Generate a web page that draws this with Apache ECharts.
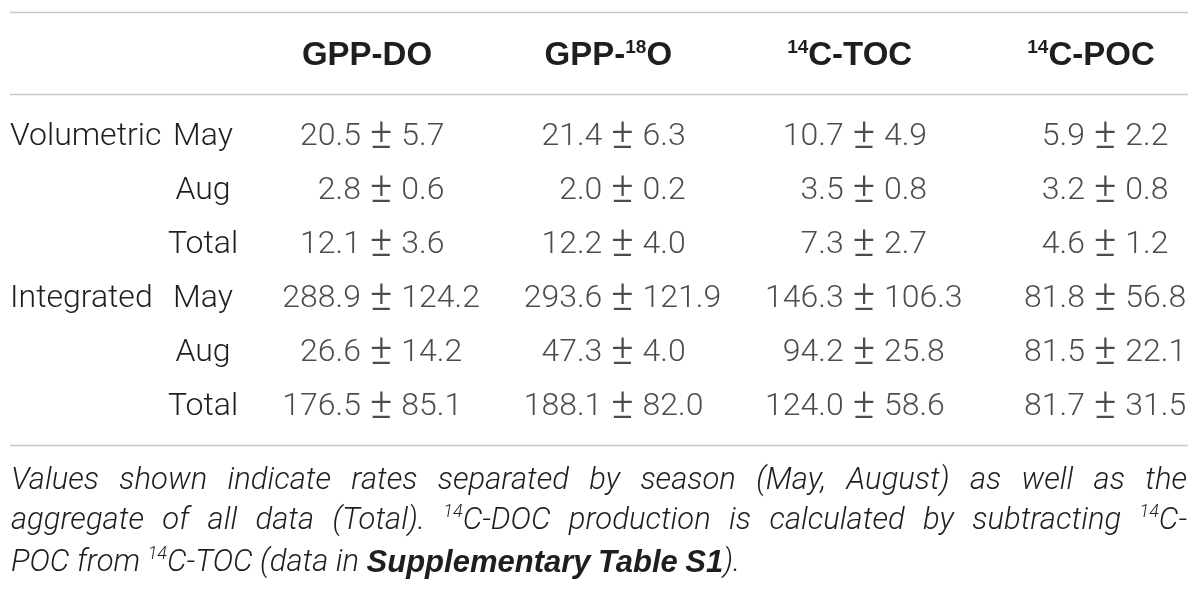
<!DOCTYPE html>
<html>
<head>
<meta charset="utf-8">
<script src="https://cdn.jsdelivr.net/npm/echarts@6.0.0/dist/echarts.min.js"></script>
<style>
html,body{margin:0;padding:0;background:#fff;}
#c{width:1200px;height:593px;}
</style>
</head>
<body>
<div id="c"></div>
<script>
// ---------------- data ----------------
const columns = ['GPP-DO', 'GPP-18O', '14C-TOC', '14C-POC'];
const rowGroups = ['Volumetric', '', '', 'Integrated', '', ''];
const seasons = ['May', 'Aug', 'Total', 'May', 'Aug', 'Total'];
const gppDOMean = [20.5, 2.8, 12.1, 288.9, 26.6, 176.5];
const gppDOSd = [5.7, 0.6, 3.6, 124.2, 14.2, 85.1];
const gpp18OMean = [21.4, 2.0, 12.2, 293.6, 47.3, 188.1];
const gpp18OSd = [6.3, 0.2, 4.0, 121.9, 4.0, 82.0];
const tocMean = [10.7, 3.5, 7.3, 146.3, 94.2, 124.0];
const tocSd = [4.9, 0.8, 2.7, 106.3, 25.8, 58.6];
const pocMean = [5.9, 3.2, 4.6, 81.8, 81.5, 81.7];
const pocSd = [2.2, 0.8, 1.2, 56.8, 22.1, 31.5];
const captionLines = [
  'Values shown indicate rates separated by season (May, August) as well as the',
  'aggregate of all data (Total). ^14C-DOC production is calculated by subtracting ^14C-',
  'POC from ^14C-TOC (data in *Supplementary* *Table* *S1*).'
];

// ---------------- styles ----------------
const BODY_FONT = 'Roboto';
const HEAD_FONT = 'Liberation Sans';
const TEXT = '#1e1e1e';
const RULE = '#c8c8c8';
const BODY_SIZE = 32;

const means = [gppDOMean, gpp18OMean, tocMean, pocMean];
const sds = [gppDOSd, gpp18OSd, tocSd, pocSd];
const rowIds = seasons.map((s, i) => (rowGroups[i] || 'r') + '-' + s + '-' + i);

const cellData = [];
means.forEach((col, ci) => {
  col.forEach((m, ri) => {
    cellData.push({ value: [ci, ri], mean: m.toFixed(1), sd: sds[ci][ri].toFixed(1) });
  });
});

function headerRich(name) {
  return name.split(/(\d+)/).filter(Boolean).map(p => /^\d+$/.test(p) ? '{s|' + p + '}' : '{b|' + p + '}').join('');
}

// caption layout helpers
const capSize = 31, capSup = 18;
const capStyles = {
  n: { fontStyle: 'italic', fontWeight: 300, fontSize: capSize, fontFamily: BODY_FONT, fill: TEXT, lineHeight: 36 },
  b: { fontStyle: 'italic', fontWeight: 'bold', fontSize: capSize, fontFamily: HEAD_FONT, fill: TEXT, lineHeight: 36 },
  s: { fontStyle: 'italic', fontWeight: 300, fontSize: capSup, fontFamily: BODY_FONT, fill: TEXT, lineHeight: 16, verticalAlign: 'top' }
};
const mctx = document.createElement('canvas').getContext('2d');
function measure(t, st) {
  mctx.font = st.fontStyle + ' ' + st.fontWeight + ' ' + st.fontSize + 'px ' + st.fontFamily;
  return mctx.measureText(t).width;
}
function parseWord(w) {
  const segs = [];
  const re = /\^(\d+)|\*([^*]+)\*|([^\^*]+)/g;
  let m;
  while ((m = re.exec(w))) {
    if (m[1]) segs.push(['s', m[1]]);
    else if (m[2]) segs.push(['b', m[2]]);
    else segs.push(['n', m[3]]);
  }
  return segs;
}
const capLeft = 11, capRight = 1187;
const capLineY = [481, 521, 563];
const captionEls = [];
captionLines.forEach((line, li) => {
  const words = line.split(' ').map(parseWord);
  const widths = words.map(segs => segs.reduce((a, [k, t]) => a + measure(t, capStyles[k]), 0));
  const total = widths.reduce((a, b) => a + b, 0);
  const justify = li < captionLines.length - 1;
  const gap = justify ? (capRight - capLeft - total) / (words.length - 1) : measure(' ', capStyles.n);
  let x = capLeft;
  words.forEach((segs, wi) => {
    captionEls.push({
      type: 'text', x: x, y: capLineY[li], silent: true,
      style: {
        text: segs.map(([k, t]) => '{' + k + '|' + t + '}').join(''),
        rich: capStyles, verticalAlign: 'middle', align: 'left'
      }
    });
    x += widths[wi] + gap;
  });
});

const rules = [12.5, 94.5, 445.5].map(y => ({
  type: 'line', silent: true,
  shape: { x1: 10, y1: y, x2: 1188, y2: y },
  style: { stroke: RULE, lineWidth: 1.5 }
}));

const cellLabel = { fontFamily: BODY_FONT, fontWeight: 300, fontSize: BODY_SIZE, color: TEXT };

// ---------------- chart ----------------
const chart = echarts.init(document.getElementById('c'));
chart.setOption({
  animation: false,
  backgroundColor: '#ffffff',
  grid: { left: 381, right: 95, top: 110, bottom: 159, containLabel: false },
  xAxis: {
    type: 'category', data: columns, position: 'top', boundaryGap: false,
    axisLine: { show: false }, axisTick: { show: false }, splitLine: { show: false },
    axisLabel: {
      interval: 0, margin: 36, padding: [0, 28, 0, 0],
      formatter: v => headerRich(v),
      rich: {
        b: { fontFamily: HEAD_FONT, fontWeight: 'bold', fontSize: 33, lineHeight: 36, color: TEXT },
        s: { fontFamily: HEAD_FONT, fontWeight: 'bold', fontSize: 19, lineHeight: 16, color: TEXT, verticalAlign: 'top' }
      }
    }
  },
  yAxis: {
    type: 'category', data: rowIds, inverse: true,
    axisLine: { show: false }, axisTick: { show: false }, splitLine: { show: false },
    axisLabel: {
      interval: 0, align: 'left', margin: 371,
      formatter: (v, i) => '{g|' + (rowGroups[i] || '\u00a0') + '}{s|' + seasons[i] + '}',
      rich: {
        g: Object.assign({ width: 160, align: 'left' }, cellLabel),
        s: Object.assign({ width: 66, align: 'center' }, cellLabel)
      }
    }
  },
  series: [{
    type: 'scatter', silent: true, symbolSize: 1,
    itemStyle: { color: 'rgba(0,0,0,0)' },
    data: cellData,
    label: Object.assign({
      show: true, position: 'inside', align: 'right', verticalAlign: 'middle', offset: [-20, 0],
      formatter: p => p.data.mean
    }, cellLabel)
  }, {
    type: 'scatter', silent: true, symbolSize: 1,
    itemStyle: { color: 'rgba(0,0,0,0)' },
    data: cellData,
    label: Object.assign({
      show: true, position: 'inside', align: 'left', verticalAlign: 'middle', offset: [-11, 0],
      formatter: p => '{pm|\u00b1}{v|' + p.data.sd + '}',
      rich: {
        pm: { fontFamily: BODY_FONT, fontWeight: 300, fontSize: 42, color: TEXT, lineHeight: 40 },
        v: Object.assign({ padding: [0, 0, 0, 9], lineHeight: 40 }, cellLabel)
      }
    }, cellLabel)
  }],
  graphic: rules.concat(captionEls)
});
</script>
</body>
</html>
